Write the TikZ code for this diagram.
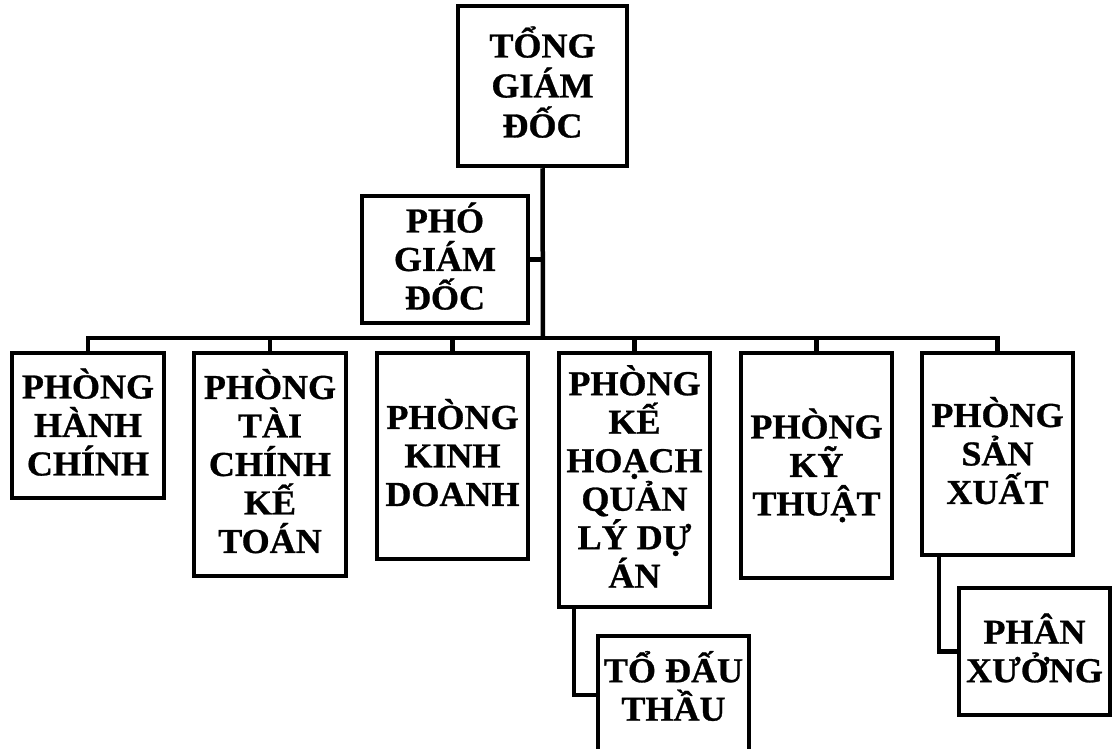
\documentclass[tikz,border=0pt]{standalone}
\usepackage{fontspec}
\setmainfont{Liberation Serif}[FakeStretch=1.03, BoldFeatures={FakeBold=0.8}]
\begin{document}
\begin{tikzpicture}[x=1pt,y=-1pt,
  box/.style={draw, line width=4.5pt, inner sep=0pt, align=center,
    font=\bfseries\fontsize{35}{38.5}\selectfont, text depth=0pt},
  wire/.style={line width=4.5pt}]
\useasboundingbox (0,0) rectangle (1112,749);

% management
\node[box, minimum width=169pt, minimum height=160pt,
  font=\bfseries\fontsize{35}{40}\selectfont, text height=102.9pt]
  (tgd) at (542.5,86) {TỔNG\\GIÁM\\ĐỐC};
\node[box, minimum width=166pt, minimum height=127pt, text height=99.9pt]
  (pgd) at (445,259.5) {PHÓ\\GIÁM\\ĐỐC};

% departments
\node[box, minimum width=152pt, minimum height=145pt, text height=99.9pt]
  (hc) at (88,425.5) {PHÒNG\\HÀNH\\CHÍNH};
\node[box, minimum width=152pt, minimum height=223pt, text height=176.9pt]
  (tckt) at (270,464.5) {PHÒNG\\TÀI\\CHÍNH\\KẾ\\TOÁN};
\node[box, minimum width=151pt, minimum height=206pt, text height=99.9pt]
  (kd) at (452.5,456) {PHÒNG\\KINH\\DOANH};
\node[box, minimum width=151pt, minimum height=254pt, text height=215.4pt]
  (khql) at (634.5,480) {PHÒNG\\KẾ\\HOẠCH\\QUẢN\\LÝ DỰ\\ÁN};
\node[box, minimum width=151pt, minimum height=225pt, text height=99.9pt]
  (kt) at (816.5,465.5) {PHÒNG\\KỸ\\THUẬT};
\node[box, minimum width=151pt, minimum height=202pt, text height=99.9pt]
  (sx) at (997.5,454) {PHÒNG\\SẢN\\XUẤT};

% sub-units
\node[box, minimum width=151pt, minimum height=118pt, text height=61.4pt, text depth=10pt]
  (tdt) at (673.5,695) {TỔ ĐẤU\\THẦU};
\node[box, minimum width=151pt, minimum height=127pt, text height=61.4pt]
  (px) at (1034.5,651.5) {PHÂN\\XƯỞNG};

% connectors
\coordinate (bus) at (543,338);
\draw[wire] (tgd.south) -- (bus);
\draw[wire] (pgd.east) -- (pgd.east -| bus);
\draw[wire] (hc.north) |- (bus) -| (sx.north);
\foreach \n in {tckt,kd,khql,kt}
  \draw[wire] (\n.north) -- (\n.north |- bus);
\draw[wire] ([xshift=-60.5pt]khql.south) |- (tdt.west);
\draw[wire] ([xshift=-58.5pt]sx.south) |- (px.west);
\end{tikzpicture}
\end{document}
